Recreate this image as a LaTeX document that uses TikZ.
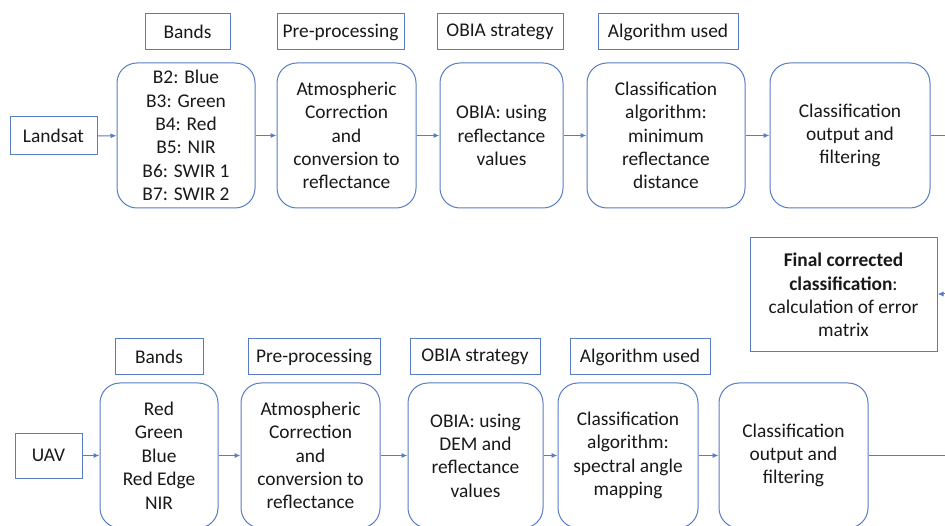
\documentclass[tikz,border=0pt]{standalone}
\usepackage{fontspec}
\setmainfont{Carlito}
\usetikzlibrary{arrows.meta}
\definecolor{bord}{RGB}{88,124,198}
\definecolor{txt}{RGB}{25,25,25}
\tikzset{
  base/.style={draw=bord, line width=1pt, inner sep=0pt, align=center, text=txt,
    font=\fontsize{19.4}{23.4}\selectfont},
  rbox/.style={base, rounded corners=20pt},
  sbox/.style={base},
  conn/.style={draw=bord, line width=1pt, -{Latex[length=6pt,width=5pt]}},
  plain/.style={draw=bord, line width=1pt}
}
\begin{document}
\begin{tikzpicture}[x=1pt,y=-1pt]
\clip (0,0) rectangle (945,526);
\fill[white] (0,0) rectangle (945,526);
% ---------- top row ----------
\node[sbox, minimum width=87pt, minimum height=38pt] (landsat) at (53.5,136) {Landsat};
\node[sbox, minimum width=85pt, minimum height=36pt] (lb1) at (187.5,32) {Bands};
\node[sbox, minimum width=127pt, minimum height=36pt] (lp1) at (340.5,32) {Pre-processing};
\node[sbox, minimum width=126pt, minimum height=36pt] (lo1) at (500,32) {OBIA strategy};
\node[sbox, minimum width=140pt, minimum height=36pt] (la1) at (668,32) {Algorithm used};

\node[rbox, minimum width=138pt, minimum height=145pt] (bands1) at (186,135.5)
  {B2: Blue\\B3: Green\\B4: Red\\B5: NIR\\B6: SWIR 1\\B7: SWIR 2};
\node[rbox, minimum width=139pt, minimum height=145pt] (pre1) at (346.5,135.5)
  {Atmospheric\\Correction\\and\\conversion to\\reflectance};
\node[rbox, minimum width=123pt, minimum height=145pt] (obia1) at (501.5,135.5)
  {OBIA: using\\reflectance\\values};
\node[rbox, minimum width=158pt, minimum height=145pt] (alg1) at (666,135.5)
  {Classification\\algorithm:\\minimum\\reflectance\\distance};
\node[rbox, minimum width=160pt, minimum height=145pt] (out1) at (850,135.5)
  {Classification\\output and\\filtering};
\coordinate (r1) at (950,135.5);

\draw[conn] (landsat) -- (bands1);
\draw[conn] (bands1) -- (pre1);
\draw[conn] (pre1) -- (obia1);
\draw[conn] (obia1) -- (alg1);
\draw[conn] (alg1) -- (out1);
\draw[plain] (out1) -- (r1);

% ---------- final box ----------
\node[sbox, minimum width=187pt, minimum height=114pt] (final) at (843.5,295)
  {\textbf{Final corrected}\\\textbf{classification}:\\calculation of error\\matrix};
\coordinate (r2) at (950,294);
\draw[conn] (r2) -- (final.east |- r2);

% ---------- bottom row ----------
\node[sbox, minimum width=67pt, minimum height=45pt] (uav) at (48.5,455.5) {UAV};
\node[sbox, minimum width=88pt, minimum height=36pt] (lb2) at (159,357) {Bands};
\node[sbox, minimum width=132pt, minimum height=36pt] (lp2) at (314,357) {Pre-processing};
\node[sbox, minimum width=130pt, minimum height=36pt] (lo2) at (475,357) {OBIA strategy};
\node[sbox, minimum width=140pt, minimum height=36pt] (la2) at (640,357) {Algorithm used};

\node[rbox, minimum width=118pt, minimum height=145pt] (bands2) at (159,455.5)
  {Red\\Green\\Blue\\Red Edge\\NIR};
\node[rbox, minimum width=139pt, minimum height=145pt] (pre2) at (310.5,455.5)
  {Atmospheric\\Correction\\and\\conversion to\\reflectance};
\node[rbox, minimum width=135pt, minimum height=145pt] (obia2) at (475.5,455.5)
  {OBIA: using\\DEM and\\reflectance\\values};
\node[rbox, minimum width=140pt, minimum height=145pt] (alg2) at (628,455.5)
  {Classification\\algorithm:\\spectral angle\\mapping};
\node[rbox, minimum width=149pt, minimum height=145pt] (out2) at (793.5,455.5)
  {Classification\\output and\\filtering};
\coordinate (r3) at (950,455.5);

\draw[conn] (uav) -- (bands2);
\draw[conn] (bands2) -- (pre2);
\draw[conn] (pre2) -- (obia2);
\draw[conn] (obia2) -- (alg2);
\draw[conn] (alg2) -- (out2);
\draw[plain] (out2) -- (r3);
\end{tikzpicture}
\end{document}
